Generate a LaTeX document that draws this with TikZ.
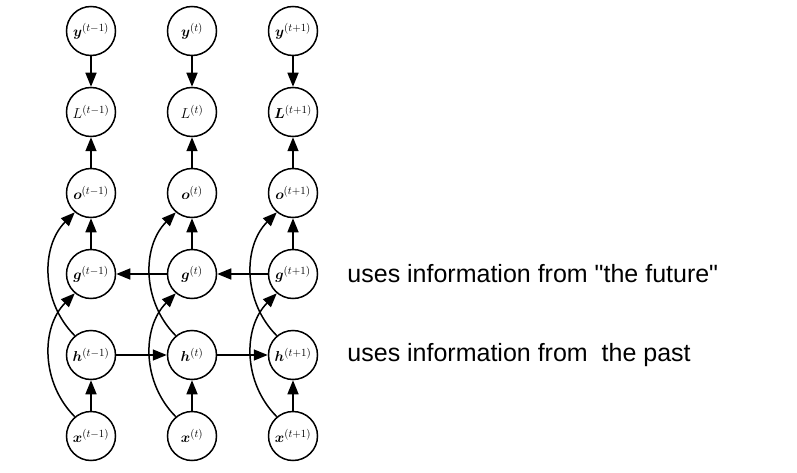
\documentclass[tikz,border=0pt]{standalone}
\usepackage{amsmath, amssymb, amsfonts}
\usepackage{fontspec}
\newfontfamily\notefont{Liberation Sans}
\usepackage{tikz}
\usetikzlibrary{
    arrows.meta,
    positioning
}

\begin{document}
\begin{tikzpicture}[
    >={Triangle[length=14pt, width=11pt]},
    node distance=81pt and 101pt,
    on grid,
    unit/.style={circle, draw=black, line width=1.5pt, fill=white, minimum size=49pt, inner sep=0pt, font=\fontsize{15}{17}\selectfont},
    flow/.style={draw=black, line width=1.5pt, ->},
    note/.style={font=\notefont\fontsize{25}{30}\selectfont, anchor=west, inner sep=0pt}
]
\useasboundingbox (0,0) rectangle (797pt,472pt);

% ==================== INPUTS ====================
\node[unit] (x_prev) at (91pt,36pt) {$\boldsymbol{x}^{(t-1)}$};
\node[unit, right=of x_prev] (x_cur) {$\boldsymbol{x}^{(t)}$};
\node[unit, right=of x_cur] (x_next) {$\boldsymbol{x}^{(t+1)}$};

% ==================== FORWARD STATES ====================
\node[unit, above=of x_prev] (h_prev) {$\boldsymbol{h}^{(t-1)}$};
\node[unit, above=of x_cur] (h_cur) {$\boldsymbol{h}^{(t)}$};
\node[unit, above=of x_next] (h_next) {$\boldsymbol{h}^{(t+1)}$};

% ==================== BACKWARD STATES ====================
\node[unit, above=of h_prev] (g_prev) {$\boldsymbol{g}^{(t-1)}$};
\node[unit, above=of h_cur] (g_cur) {$\boldsymbol{g}^{(t)}$};
\node[unit, above=of h_next] (g_next) {$\boldsymbol{g}^{(t+1)}$};

% ==================== OUTPUTS ====================
\node[unit, above=of g_prev] (o_prev) {$\boldsymbol{o}^{(t-1)}$};
\node[unit, above=of g_cur] (o_cur) {$\boldsymbol{o}^{(t)}$};
\node[unit, above=of g_next] (o_next) {$\boldsymbol{o}^{(t+1)}$};

% ==================== LOSSES ====================
\node[unit, above=of o_prev] (L_prev) {$L^{(t-1)}$};
\node[unit, above=of o_cur] (L_cur) {$L^{(t)}$};
\node[unit, above=of o_next] (L_next) {$\boldsymbol{L}^{(t+1)}$};

% ==================== TARGETS ====================
\node[unit, above=of L_prev] (y_prev) {$\boldsymbol{y}^{(t-1)}$};
\node[unit, above=of L_cur] (y_cur) {$\boldsymbol{y}^{(t)}$};
\node[unit, above=of L_next] (y_next) {$\boldsymbol{y}^{(t+1)}$};

% vertical links
\draw[flow] (x_prev) -- (h_prev);
\draw[flow] (x_cur) -- (h_cur);
\draw[flow] (x_next) -- (h_next);
\draw[flow] (g_prev) -- (o_prev);
\draw[flow] (g_cur) -- (o_cur);
\draw[flow] (g_next) -- (o_next);
\draw[flow] (o_prev) -- (L_prev);
\draw[flow] (o_cur) -- (L_cur);
\draw[flow] (o_next) -- (L_next);
\draw[flow] (y_prev) -- (L_prev);
\draw[flow] (y_cur) -- (L_cur);
\draw[flow] (y_next) -- (L_next);

% recurrences: h forward, g backward
\draw[flow] (h_prev) -- (h_cur);
\draw[flow] (h_cur) -- (h_next);
\draw[flow] (g_next) -- (g_cur);
\draw[flow] (g_cur) -- (g_prev);

% skip links
\draw[flow] (x_prev.130) to[bend left=45] (g_prev.230);
\draw[flow] (x_cur.130) to[bend left=45] (g_cur.230);
\draw[flow] (x_next.130) to[bend left=45] (g_next.230);
\draw[flow] (h_prev.130) to[bend left=45] (o_prev.230);
\draw[flow] (h_cur.130) to[bend left=45] (o_cur.230);
\draw[flow] (h_next.130) to[bend left=45] (o_next.230);

% ==================== NOTES ====================
\node[note] (future) at ([xshift=29pt]g_next.east) {uses information from "the future"};
\node[note] (past) at ([xshift=29pt]h_next.east) {uses information from\ \ the past};

\end{tikzpicture}
\end{document}
